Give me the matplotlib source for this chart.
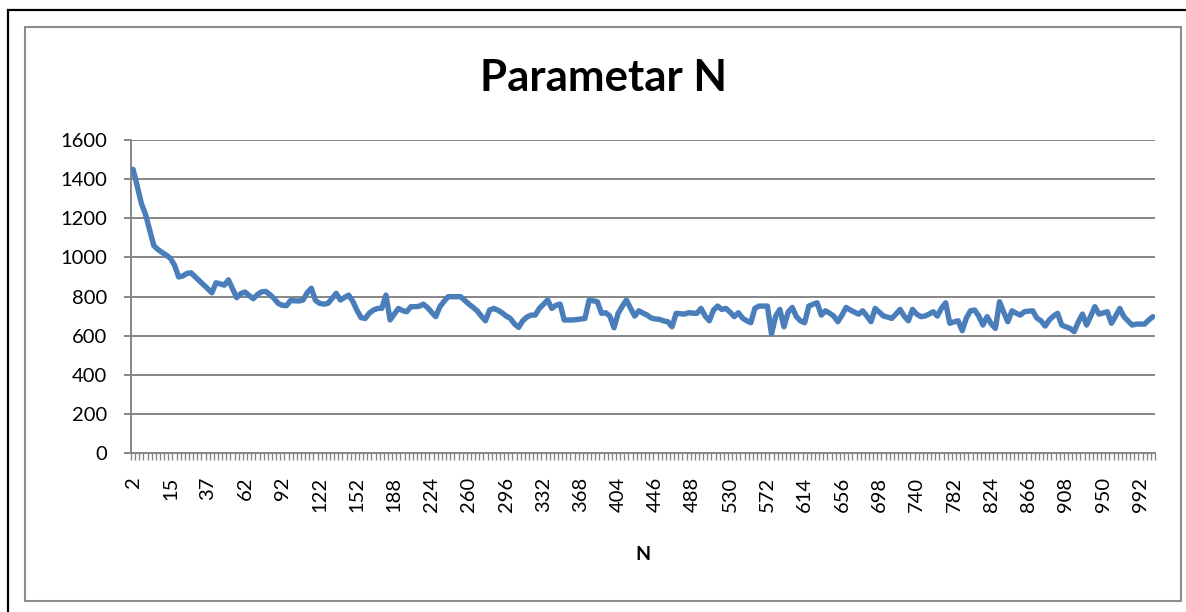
import matplotlib
matplotlib.use("Agg")
import matplotlib.pyplot as plt
from matplotlib.patches import Rectangle
from matplotlib.ticker import FixedLocator, NullFormatter

plt.rcParams['font.family'] = ['Lato', 'DejaVu Sans']

title = "Parametar N"
x_label = "N"
tick_labels = ["2", "15", "37", "62", "92", "122", "152", "188", "224", "260",
               "296", "332", "368", "404", "446", "488", "530", "572", "614", "656",
               "698", "740", "782", "824", "866", "908", "950", "992"]
label_every = 9
y_ticks = [0, 200, 400, 600, 800, 1000, 1200, 1400, 1600]

values = [
    1450, 1365, 1276, 1220, 1140, 1060, 1040, 1025, 1012, 995,
    960, 900, 905, 918, 921, 900, 880, 860, 840, 819,
    870, 865, 858, 885, 840, 794, 815, 823, 805, 789,
    810, 824, 826, 810, 790, 765, 755, 753, 780, 778,
    777, 782, 820, 842, 780, 765, 761, 765, 790, 816,
    782, 795, 807, 775, 730, 692, 688, 715, 731, 739,
    740, 807, 680, 710, 739, 728, 722, 748, 748, 750,
    761, 744, 720, 697, 748, 775, 799, 799, 799, 799,
    780, 761, 745, 727, 700, 676, 731, 739, 730, 717,
    700, 688, 660, 642, 676, 695, 705, 705, 739, 760,
    782, 739, 755, 761, 680, 680, 680, 682, 685, 688,
    782, 778, 773, 714, 717, 700, 640, 714, 750, 782,
    740, 700, 727, 715, 705, 690, 685, 683, 675, 671,
    645, 714, 712, 710, 717, 715, 714, 739, 700, 676,
    730, 751, 734, 739, 720, 697, 717, 690, 676, 666,
    740, 751, 751, 751, 608, 700, 734, 645, 720, 744,
    697, 675, 666, 751, 760, 768, 705, 727, 715, 700,
    671, 705, 744, 731, 720, 710, 727, 700, 671, 739,
    720, 700, 695, 688, 710, 734, 700, 676, 734, 710,
    697, 700, 710, 722, 700, 740, 768, 663, 670, 676,
    625, 690, 727, 731, 700, 654, 697, 660, 637, 773,
    720, 671, 727, 715, 705, 722, 725, 727, 690, 676,
    649, 680, 700, 714, 654, 645, 637, 620, 670, 710,
    654, 700, 748, 710, 716, 722, 663, 700, 739, 697,
    675, 654, 659, 659, 659, 680, 697,
]

W, H = 1186, 612
fig = plt.figure(figsize=(W / 100, H / 100), dpi=100)

# outer frames
fig.patches.append(Rectangle((8 / W, 1 - 700 / H), (1300 - 8) / W, (700 - 10) / H,
                             transform=fig.transFigure, fill=False,
                             edgecolor='black', linewidth=1.6, zorder=0))
fig.patches.append(Rectangle((25 / W, 1 - 601 / H), (1181 - 25) / W, (601 - 27) / H,
                             transform=fig.transFigure, fill=False,
                             edgecolor='#8c8c8c', linewidth=1.5, zorder=0))

left, right, top, bottom = 131, 1155, 140, 453
ax = fig.add_axes([left / W, 1 - bottom / H, (right - left) / W, (bottom - top) / H])

n = len(values)
xs = list(range(n))
ax.plot(xs, values, color='#4A7EBB', linewidth=3.9, solid_joinstyle='round',
        solid_capstyle='round', zorder=3)

ax.set_xlim(-0.5, n - 0.5)
ax.set_ylim(0, 1600)
ax.set_yticks(y_ticks)
ax.set_yticklabels([str(v) for v in y_ticks], fontsize=14.5)
ax.yaxis.grid(True, color='#868686', linewidth=1.4)
ax.set_axisbelow(True)

major_pos = [i * label_every for i in range(len(tick_labels))]
ax.set_xticks(major_pos)
ax.set_xticklabels(tick_labels, rotation=90, fontsize=14.5)
ax.xaxis.set_minor_locator(FixedLocator([i - 0.5 for i in range(n + 1)]))
ax.xaxis.set_minor_formatter(NullFormatter())
ax.tick_params(axis='x', which='major', length=0, pad=17)
ax.tick_params(axis='x', which='minor', length=5, width=1.0, color='#868686', direction='out')
ax.tick_params(axis='y', which='major', length=5, width=1.4, color='#868686', pad=12)

for s in ['top', 'right']:
    ax.spines[s].set_visible(False)
ax.spines['left'].set_color('#868686')
ax.spines['left'].set_linewidth(1.4)
ax.spines['bottom'].set_color('#868686')
ax.spines['bottom'].set_linewidth(1.4)

fig.text(603 / W, 1 - 78 / H, title, ha='center', va='center', fontsize=31.5, fontweight='bold')
fig.text(643 / W, 1 - 555 / H, x_label, ha='center', va='center', fontsize=14, fontweight='bold')

fig.savefig("out.png", dpi=100)
